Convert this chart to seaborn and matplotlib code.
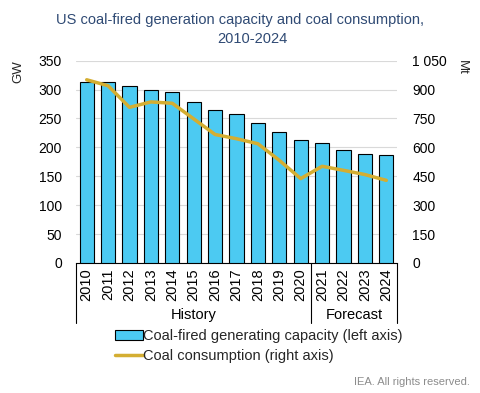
import matplotlib
matplotlib.use("Agg")
import matplotlib.pyplot as plt
import matplotlib.transforms as mtransforms
from matplotlib.ticker import FuncFormatter
import seaborn as sns
import numpy as np
import pandas as pd

years = ["2010", "2011", "2012", "2013", "2014", "2015", "2016", "2017",
         "2018", "2019", "2020", "2021", "2022", "2023", "2024"]
capacity_gw = [313, 313, 306, 299, 295, 278, 265, 257, 242, 226, 213, 208, 196, 189, 187]
consumption_mt = [951, 920, 808, 836, 829, 748, 667, 645, 619, 533, 438, 502, 481, 459, 429]
groups = ["History", "Forecast"]
group_sizes = [11, 4]

sns.set_theme(style="white")
plt.rcParams["font.family"] = ["Liberation Sans", "DejaVu Sans"]

bar_color = "#4CCAF2"
line_color = "#D4AE32"
title_color = "#2F4A74"

fig = plt.figure(figsize=(4.8, 3.93), dpi=100)
W, H = 480, 393
left, right, top, bottom = 76, 397, 60.7, 263
ax = fig.add_axes([left / W, 1 - bottom / H, (right - left) / W, (bottom - top) / H])

df = pd.DataFrame({"year": years, "cap": capacity_gw, "cons": consumption_mt})
df["pos"] = np.arange(len(years))

sns.barplot(data=df, x="year", y="cap", color=bar_color, edgecolor="black",
            linewidth=0.8, width=0.67, saturation=1, ax=ax, zorder=3,
            label="Coal-fired generating capacity (left axis)")
if ax.get_legend() is not None:
    ax.get_legend().remove()
ax.set_ylim(0, 350)
ax.set_yticks(range(0, 351, 50))
ax.set_xlim(-0.5, len(years) - 0.5)
ax.yaxis.grid(True, color="#D9D9D9", linewidth=0.8, zorder=0)
ax.set_axisbelow(True)
for s in ["left", "right", "top"]:
    ax.spines[s].set_visible(False)
ax.spines["bottom"].set_color("black")
ax.spines["bottom"].set_linewidth(0.8)
ax.set_xlabel("")
ax.set_ylabel("")
ax.tick_params(axis="x", length=0, labelsize=10.5, rotation=90, pad=4, colors="black")
ax.tick_params(axis="y", length=0, labelsize=10, pad=10, colors="black")

ax2 = ax.twinx()
sns.lineplot(data=df, x="pos", y="cons", color=line_color, linewidth=2.5, ax=ax2,
             label="Coal consumption (right axis)", legend=False)
ax2.set_ylim(0, 1050)
ax2.set_yticks(range(0, 1051, 150))
ax2.yaxis.set_major_formatter(FuncFormatter(lambda v, p: f"{int(v):,}".replace(",", " ")))
for s in ["left", "right", "top", "bottom"]:
    ax2.spines[s].set_visible(False)
ax2.set_ylabel("")
ax2.set_xlabel("")
ax2.tick_params(axis="y", length=0, labelsize=10, pad=11, colors="black")
ax2.set_xlim(-0.5, len(years) - 0.5)

# Group box under category axis
trans = mtransforms.blended_transform_factory(ax.transData, ax.transAxes)
box_bottom = -(323 - 263) / (bottom - top)
label_y = -(315 - 263) / (bottom - top)
edges = np.concatenate([[0], np.cumsum(group_sizes)]) - 0.5
for e in edges:
    ax.plot([e, e], [0, box_bottom], transform=trans, color="black",
            linewidth=0.8, clip_on=False)
for g, a, b in zip(groups, edges[:-1], edges[1:]):
    ax.text((a + b) / 2, label_y, g, transform=trans, ha="center", va="center",
            fontsize=10.5, color="black")

# Axis unit labels
fig.text(18 / W, 1 - 72 / H, "GW", rotation=90, ha="center", va="center", fontsize=9.5)
fig.text(462 / W, 1 - 67 / H, "Mt", rotation=270, ha="center", va="center", fontsize=9.5)

# Title
fig.text(240 / W, 1 - 20 / H, "US coal-fired generation capacity and coal consumption,",
         ha="center", va="center", fontsize=10.5, color=title_color)
fig.text(252 / W, 1 - 39 / H, "2010-2024", ha="center", va="center",
         fontsize=10.5, color=title_color)

# Legend
h1, l1 = ax.get_legend_handles_labels()
h2, l2 = ax2.get_legend_handles_labels()
leg = fig.legend(h1 + h2, l1 + l2, loc="upper left",
                 bbox_to_anchor=(115 / W, 1 - 329 / H), frameon=False,
                 fontsize=10.5, handlelength=1.9, handletextpad=0.05,
                 labelspacing=0.4, borderaxespad=0, borderpad=0)

fig.text(470 / W, 1 - 382 / H, "IEA. All rights reserved.", ha="right", va="center",
         fontsize=8, color="#8C8C8C")

fig.savefig("out.png", dpi=100)
